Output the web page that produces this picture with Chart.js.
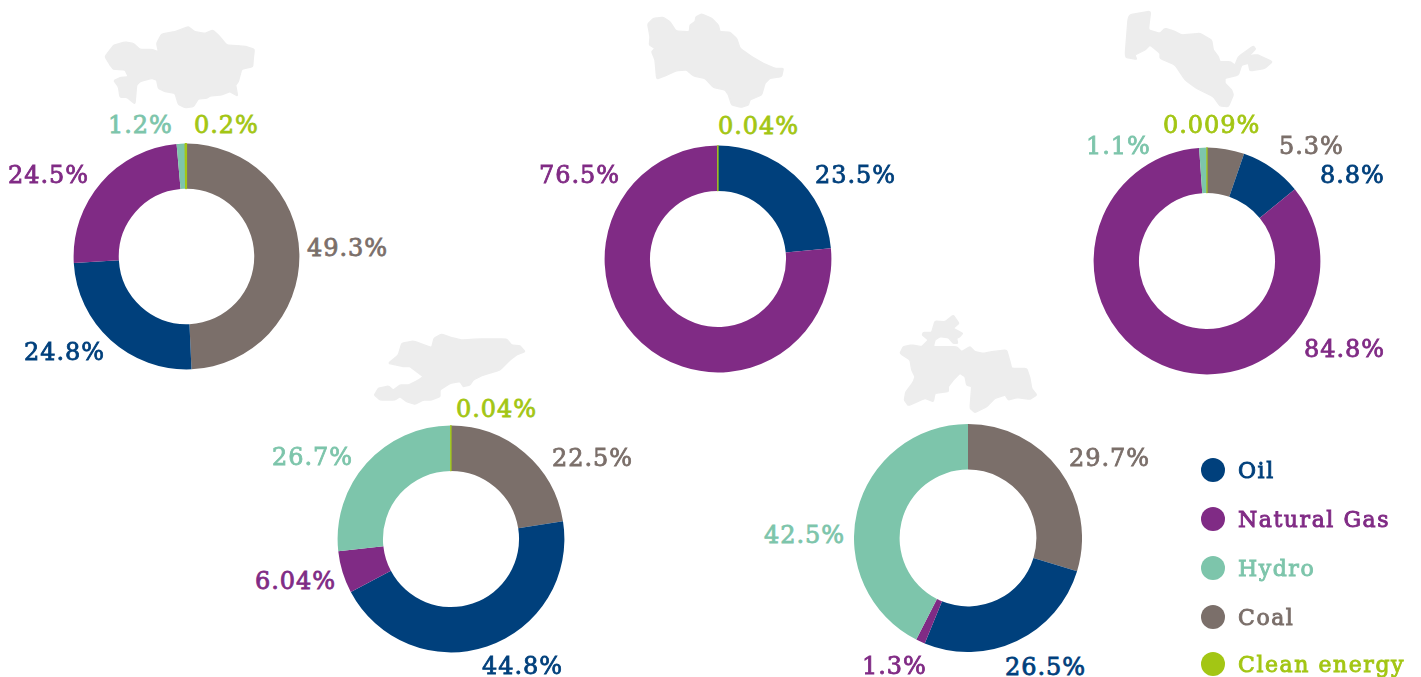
<!DOCTYPE html>
<html><head><meta charset="utf-8">
<script src="https://cdn.jsdelivr.net/npm/chart.js@4"></script>
<style>
html,body{margin:0;padding:0;background:#fff;overflow:hidden}
#stage{position:relative;width:1421px;height:677px;overflow:hidden}
canvas{position:absolute}
svg{position:absolute;left:0;top:0}
.t{position:absolute;white-space:nowrap;font-family:"DejaVu Serif",serif;font-size:24px;line-height:30px;letter-spacing:.95px;-webkit-text-stroke:.8px currentColor}
.l{font-size:22px;letter-spacing:1.55px;-webkit-text-stroke:.9px currentColor}
.d{position:absolute;width:24px;height:24px;border-radius:50%}
</style></head><body><div id="stage"></div>
<script>
// ---- data ----
const categories = ["Coal","Oil","Natural Gas","Hydro","Clean energy"];
const legendOrder = ["Oil","Natural Gas","Hydro","Coal","Clean energy"];
const kazakhstan   = [49.3,24.8,24.5,1.2,0.2];
const turkmenistan = [0,23.5,76.5,0,0.04];
const uzbekistan   = [5.3,8.8,84.8,1.1,0.009];
const kyrgyzstan   = [22.5,44.8,6.04,26.7,0.04];
const tajikistan   = [29.7,26.5,1.3,42.5,0];
const kazakhstanLabels   = ["49.3%","24.8%","24.5%","1.2%","0.2%"];
const turkmenistanLabels = ["","23.5%","76.5%","","0.04%"];
const uzbekistanLabels   = ["5.3%","8.8%","84.8%","1.1%","0.009%"];
const kyrgyzstanLabels   = ["22.5%","44.8%","6.04%","26.7%","0.04%"];
const tajikistanLabels   = ["29.7%","26.5%","1.3%","42.5%",""];

// ---- styles & layout ----
const colors = {"Oil":"#00407c","Natural Gas":"#802b85","Hydro":"#7dc5ab","Coal":"#7b6f6a","Clean energy":"#a3c614"};
const panels = [
 {v:kazakhstan,  t:kazakhstanLabels,  cx:186.5,cy:256.5,R:113.5,pos:[[307,248],[24,352],[8,175],[108,125],[194,125]]},
 {v:turkmenistan,t:turkmenistanLabels,cx:717.5,cy:258.5,R:114,pos:[null,[815,175],[539,175],null,[718,126]]},
 {v:uzbekistan,  t:uzbekistanLabels,  cx:1206.5,cy:261,R:114,pos:[[1279,146],[1320,175],[1304,349],[1086,146],[1163,125]]},
 {v:kyrgyzstan,  t:kyrgyzstanLabels,  cx:450.5,cy:539,R:114,pos:[[552,458],[482,666],[255,581],[272,457],[456,409]]},
 {v:tajikistan,  t:tajikistanLabels,  cx:968,cy:538,R:114,pos:[[1069,458],[1005,667],[862,666],[764,535],null]}
];
const shapes = [
 [90,10,"45,140 60,120 72,105 105,96 130,100 150,118 185,118 205,125 200,100 215,72 255,65 295,50 315,65 345,70 368,60 385,75 410,105 445,107 470,110 493,118 490,145 488,170 455,178 445,215 437,225 443,258 420,245 395,255 360,258 350,265 325,267 310,290 285,293 265,283 255,250 225,245 205,235 200,210 185,205 150,215 140,225 135,282 110,262 90,262 85,230 72,212 90,203 115,200 105,180 70,178 60,165"],
 [630,0,"53,72 70,55 100,52 120,65 138,93 178,95 180,75 195,65 198,50 215,42 245,55 265,75 270,95 300,97 320,115 330,145 365,170 400,190 435,205 460,205 455,230 420,235 405,250 395,285 360,300 355,315 335,322 305,315 295,285 285,270 250,262 225,235 190,228 170,210 140,212 105,228 80,237 75,180 65,155 75,145 58,135 60,110"],
 [1110,0,"55,45 122,33 115,90 150,100 165,85 190,92 215,105 270,100 305,120 310,150 325,170 330,185 360,185 375,195 385,170 430,138 437,147 415,170 430,165 445,165 487,185 465,205 420,213 415,190 395,195 385,225 345,235 345,250 365,270 370,285 355,320 330,318 310,290 260,265 225,240 195,195 150,175 150,160 120,135 105,150 75,165 80,178 45,172"],
 [360,325,"85,115 115,90 125,55 160,48 215,68 222,40 245,27 275,38 305,45 350,42 440,42 455,60 480,62 495,80 470,90 450,105 420,135 370,150 340,165 330,180 310,185 300,170 270,175 240,195 240,215 215,225 190,225 165,238 140,230 120,215 105,225 60,225 43,210 55,190 85,183 100,195 120,180 145,180 175,165 190,155 150,125 130,125"],
 [885,305,"45,145 55,125 80,120 110,125 130,105 112,90 115,82 140,82 150,48 180,50 205,30 222,55 205,70 233,85 225,95 215,100 218,115 205,115 190,98 165,95 150,105 145,125 215,125 230,140 255,125 270,140 295,145 320,140 365,135 375,170 380,190 425,190 435,220 440,250 455,270 435,283 395,278 370,285 360,270 330,280 305,305 270,323 255,310 260,245 245,240 240,215 225,205 205,225 190,245 190,260 150,265 145,290 120,280 70,302 58,285 62,262 85,230 90,215 80,195 75,165"]
];
const legendY = [470,519,568,617,664];

const stage = document.getElementById('stage');
// country silhouettes (decoration), corners softened
const NS='http://www.w3.org/2000/svg';
const svg=document.createElementNS(NS,'svg');svg.setAttribute('width',1421);svg.setAttribute('height',677);
function smooth(str){const p=str.split(' ').map(s=>s.split(',').map(Number));const n=p.length;
 const mid=(a,b,t)=>[a[0]+(b[0]-a[0])*t,a[1]+(b[1]-a[1])*t];
 let d='';for(let i=0;i<n;i++){const a=p[i],b=p[(i+1)%n],m1=mid(a,b,.15),m2=mid(a,b,.85),c=p[(i+2)%n],m3=mid(b,c,.15);
  d+=(i?'L':'M')+m1.join(' ')+'L'+m2.join(' ')+'Q'+b.join(' ')+' '+m3.join(' ');}
 return d+'Z';}
shapes.forEach(([x,y,p])=>{const e=document.createElementNS(NS,'path');e.setAttribute('d',smooth(p));
 e.setAttribute('transform',`translate(${x} ${y}) scale(${1/3})`);e.setAttribute('fill','#ededed');e.setAttribute('stroke','#ededed');e.setAttribute('stroke-width','4');e.setAttribute('stroke-linejoin','round');svg.appendChild(e);});
stage.appendChild(svg);

function addText(str,x,yc,color,cls){const s=document.createElement('div');s.className='t '+(cls||'');s.textContent=str;s.style.left=x+'px';s.style.top=(yc-15)+'px';s.style.color=color;stage.appendChild(s);}

panels.forEach(p=>{
 const c=document.createElement('canvas');c.width=c.height=2*p.R;
 c.style.left=(p.cx-p.R)+'px';c.style.top=(p.cy-p.R)+'px';c.style.width=c.style.height=2*p.R+'px';stage.appendChild(c);
 new Chart(c,{type:'doughnut',data:{labels:categories,datasets:[{data:p.v,
   backgroundColor:categories.map(n=>colors[n]),
   borderColor:categories.map(n=>colors[n]),
   borderWidth:ctx=>(ctx.dataIndex===4&&ctx.raw>0)?1.2:0}]},
  options:{responsive:false,animation:false,cutout:'60%',events:[],layout:{padding:0},plugins:{legend:{display:false},tooltip:{enabled:false}}}});
 p.t.forEach((s,i)=>{if(s&&p.pos[i])addText(s,p.pos[i][0],p.pos[i][1],colors[categories[i]]);});
});
legendOrder.forEach((n,i)=>{
 const d=document.createElement('div');d.className='d';d.style.left='1201px';d.style.top=(legendY[i]-12)+'px';d.style.background=colors[n];stage.appendChild(d);
 addText(n,1238,legendY[i]+1,colors[n],'l');
});
</script></body></html>
